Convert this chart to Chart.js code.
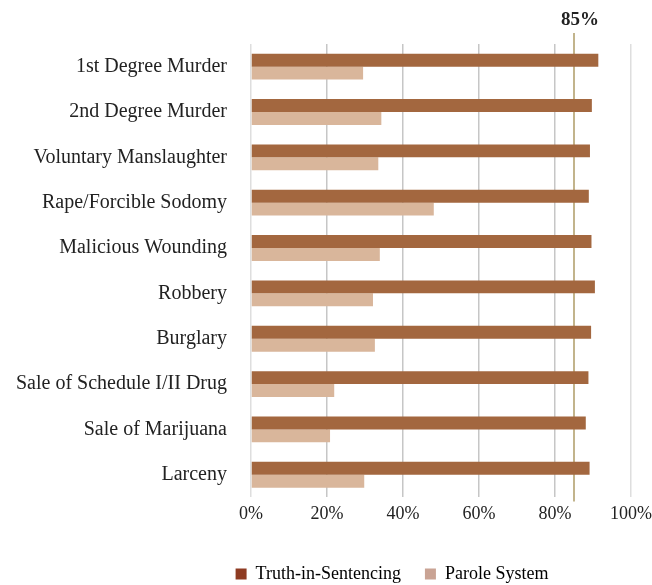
<!DOCTYPE html>
<html>
<head>
<meta charset="utf-8">
<script src="https://cdn.jsdelivr.net/npm/chart.js@4/dist/chart.umd.min.js"></script>
<style>
  html, body { margin: 0; padding: 0; background: #fff; }
  #wrap { width: 652px; height: 585px; position: relative; }
</style>
</head>
<body>
<div id="wrap"><canvas id="sentenceChart"></canvas></div>
<script>
var offenses = ['1st Degree Murder', '2nd Degree Murder', 'Voluntary Manslaughter', 'Rape/Forcible Sodomy',
  'Malicious Wounding', 'Robbery', 'Burglary', 'Sale of Schedule I/II Drug', 'Sale of Marijuana', 'Larceny'];

var truthInSentencing = [91.4, 89.7, 89.2, 88.9, 89.6, 90.5, 89.5, 88.8, 88.1, 89.1];
var paroleSystem = [29.5, 34.3, 33.5, 48.1, 33.9, 32.1, 32.6, 21.9, 20.8, 29.8];

var seriesNames = ['Truth-in-Sentencing', 'Parole System'];
var barColors = ['#a3673f', '#d9b69b'];
var legendColors = ['#8e3b22', '#c9a394'];

var targetValue = 85;
var xTicks = [0, 20, 40, 60, 80, 100];

var serif = "'Liberation Serif', 'DejaVu Serif', serif";

// vertical reference line with its label on top
var targetLine = {
  id: 'targetLine',
  beforeDatasetsDraw: function (chart) {
    var ctx = chart.ctx;
    var x = chart.scales.x.getPixelForValue(targetValue);
    ctx.save();
    ctx.strokeStyle = '#c2b48c';
    ctx.lineWidth = 2;
    ctx.beginPath();
    ctx.moveTo(x, 33);
    ctx.lineTo(x, chart.chartArea.bottom + 4);
    ctx.stroke();
    ctx.restore();
  },
  afterDraw: function (chart) {
    var ctx = chart.ctx;
    var x = chart.scales.x.getPixelForValue(targetValue);
    ctx.save();
    ctx.fillStyle = '#222';
    ctx.font = 'bold 19px ' + serif;
    ctx.textAlign = 'center';
    ctx.textBaseline = 'middle';
    ctx.fillText(targetValue + '%', x + 6, 20);
    ctx.restore();
  }
};

// nudge the legend right and down
var legendShift = {
  id: 'legendShift',
  afterLayout: function (chart) {
    var l = chart.legend;
    l.left += 66;
    l.right += 66;
    l.top += 10;
    l.bottom += 10;
  }
};

new Chart(document.getElementById('sentenceChart'), {
  type: 'bar',
  data: {
    labels: offenses,
    datasets: [
      { label: seriesNames[0], data: truthInSentencing, backgroundColor: barColors[0] },
      { label: seriesNames[1], data: paroleSystem, backgroundColor: barColors[1] }
    ]
  },
  options: {
    indexAxis: 'y',
    responsive: true,
    maintainAspectRatio: false,
    animation: false,
    categoryPercentage: 0.57,
    barPercentage: 1.0,
    layout: { padding: { top: 44, right: 0, bottom: 2, left: 0 } },
    scales: {
      x: {
        min: 0,
        max: 100,
        afterBuildTicks: function (scale) {
          scale.ticks = xTicks.map(function (v) { return { value: v }; });
        },
        afterFit: function (scale) {
          scale.paddingLeft = 0;
          scale.paddingRight = 21;
        },
        grid: {
          drawTicks: false,
          color: function (c) {
            return (c.tick && (c.tick.value === 100 || c.tick.value === 0)) ? '#dedede' : '#c6c6c6';
          },
          lineWidth: 1.5
        },
        border: { display: false },
        ticks: {
          padding: 6,
          color: '#222',
          font: { family: serif, size: 18 },
          callback: function (v) { return v + '%'; }
        }
      },
      y: {
        afterFit: function (scale) { scale.width = 251; },
        grid: { display: false, drawTicks: false },
        border: { display: false },
        ticks: {
          padding: 24,
          color: '#222',
          font: { family: serif, size: 20 }
        }
      }
    },
    plugins: {
      tooltip: { enabled: false },
      legend: {
        position: 'bottom',
        labels: {
          boxWidth: 11,
          boxHeight: 11,
          padding: 24,
          color: '#222',
          font: { family: serif, size: 18 },
          generateLabels: function (chart) {
            return seriesNames.map(function (name, i) {
              return {
                text: name,
                fillStyle: legendColors[i],
                strokeStyle: legendColors[i],
                lineWidth: 0,
                datasetIndex: i
              };
            });
          }
        }
      }
    }
  },
  plugins: [targetLine, legendShift]
});
</script>
</body>
</html>
